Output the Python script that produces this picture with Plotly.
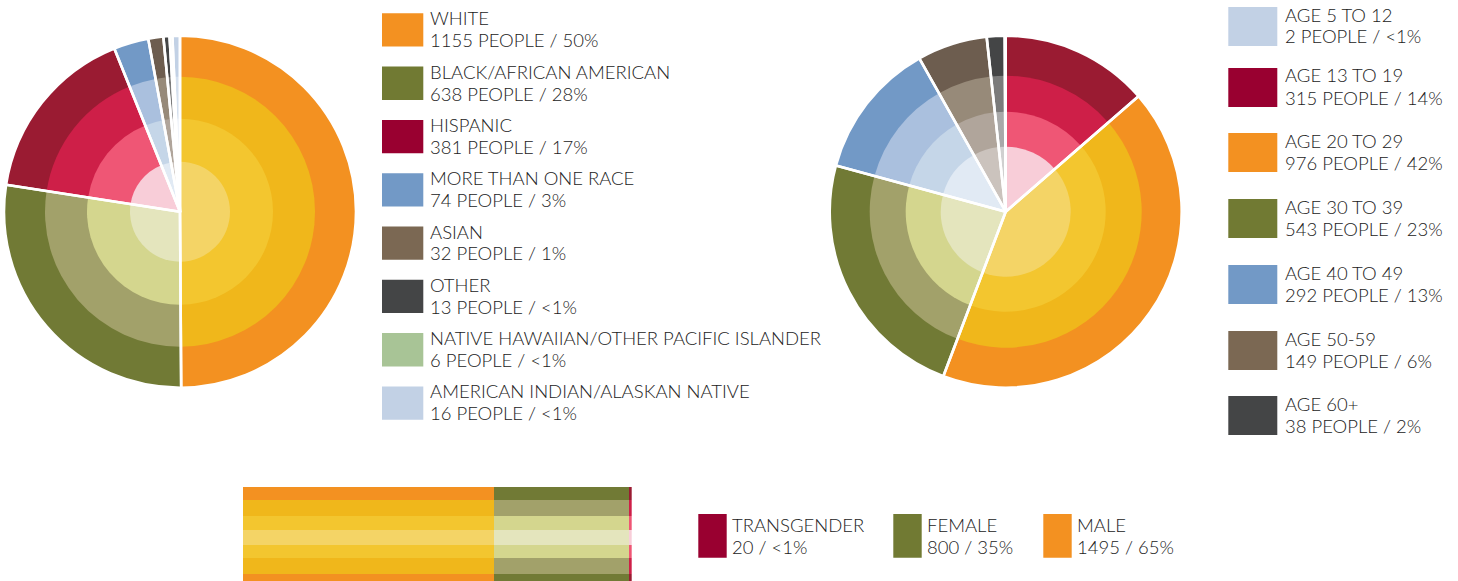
import plotly.graph_objects as go

W, H = 1458, 581

# ---------------- data ----------------
race_labels = ['WHITE', 'BLACK/AFRICAN AMERICAN', 'HISPANIC', 'MORE THAN ONE RACE', 'ASIAN',
               'OTHER', 'NATIVE HAWAIIAN/OTHER PACIFIC ISLANDER', 'AMERICAN INDIAN/ALASKAN NATIVE']
race_counts = [1155, 638, 381, 74, 32, 13, 6, 16]
race_pct = ['50%', '28%', '17%', '3%', '1%', '<1%', '<1%', '<1%']

age_labels = ['AGE 5 TO 12', 'AGE 13 TO 19', 'AGE 20 TO 29', 'AGE 30 TO 39',
              'AGE 40 TO 49', 'AGE 50-59', 'AGE 60+']
age_counts = [2, 315, 976, 543, 292, 149, 38]
age_pct = ['<1%', '14%', '42%', '23%', '13%', '6%', '2%']
age_pie_order = [1, 2, 3, 4, 5, 6, 0]

gender_labels = ['TRANSGENDER', 'FEMALE', 'MALE']
gender_counts = [20, 800, 1495]
gender_pct = ['<1%', '35%', '65%']
gender_bar_order = [2, 1, 0]

# ---------------- styles ----------------
PAL = {
    'orange': ['#F39121', '#F0B71B', '#F3C62F', '#F4D466'],
    'olive': ['#717A35', '#A2A16A', '#D4D68E', '#E4E5BD'],
    'red': ['#9A1B32', '#CE1F48', '#EF5675', '#F8CDD8'],
    'blue': ['#7299C6', '#AAC0DE', '#C5D6E8', '#E1EAF4'],
    'brown': ['#6D5D4F', '#978A79', '#B0A59B', '#CBC3BD'],
    'gray': ['#444546', '#7B7B7B', '#A9A9A9', '#D0D0D0'],
    'green': ['#A8C496', '#C5D8B8', '#DCE8D4', '#EEF4EA'],
    'lightblue': ['#C2D1E5', '#D5E0EE', '#E3EAF4', '#F0F4F9'],
}
race_pal = ['orange', 'olive', 'red', 'blue', 'brown', 'gray', 'green', 'lightblue']
race_swatch = ['#F39121', '#717A33', '#990030', '#7299C6', '#7B6853', '#444546', '#A8C496', '#C2D1E5']
age_pal = ['lightblue', 'red', 'orange', 'olive', 'blue', 'brown', 'gray']
age_swatch = ['#C2D1E5', '#990030', '#F39121', '#717A33', '#7299C6', '#7B6853', '#444546']
gender_pal = ['red', 'olive', 'orange']
gender_swatch = ['#990030', '#717A33', '#F39121']

FONT = 'Lato'
FSIZE = 18.5
TCOL = '#222222'

fig = go.Figure()


def dom(cx, cy, r):
    return dict(x=[(cx - r) / W, (cx + r) / W], y=[1 - (cy + r) / H, 1 - (cy - r) / H])


def ring_pie(values, labels, pals, cx, cy, radii):
    for level, r in enumerate(radii):
        fig.add_trace(go.Pie(values=values, labels=labels, sort=False, direction='clockwise',
                             rotation=0, textinfo='none', showlegend=False,
                             marker=dict(colors=[PAL[p][level] for p in pals], line=dict(width=0)),
                             domain=dom(cx, cy, r)))
    fig.add_trace(go.Pie(values=values, labels=labels, sort=False, direction='clockwise',
                         rotation=0, textinfo='none', showlegend=False, hoverinfo='skip',
                         marker=dict(colors=['rgba(0,0,0,0)'] * len(values),
                                     line=dict(color='white', width=2.6)),
                         domain=dom(cx, cy, radii[0])))


ring_pie(race_counts, race_labels, race_pal, 180, 211.7, [176, 135, 93, 50])
ring_pie([age_counts[i] for i in age_pie_order], [age_labels[i] for i in age_pie_order],
         [age_pal[i] for i in age_pie_order], 1005.7, 211.7, [176, 136, 100, 65])

# ---------------- gender bar (striped like a cylinder) ----------------
bounds = [50, 37.2, 20.7, 7.5, -7.5, -20.7, -37.2, -50]
levels = [0, 1, 2, 3, 2, 1, 0]
centers = [(bounds[k] + bounds[k + 1]) / 2 for k in range(7)]
widths = [bounds[k] - bounds[k + 1] for k in range(7)]
for gi in gender_bar_order:
    fig.add_trace(go.Bar(x=[gender_counts[gi]] * 7, y=centers, width=widths, orientation='h',
                         marker=dict(color=[PAL[gender_pal[gi]][l] for l in levels], line=dict(width=0)),
                         name=gender_labels[gi], showlegend=False))

fig.update_layout(
    barmode='stack', bargap=0,
    xaxis=dict(domain=[242.7 / W, 631.7 / W], range=[0, sum(gender_counts)], visible=False),
    yaxis=dict(domain=[0, (H - 486.7) / H], range=[-44.3, 50], visible=False),
)

# ---------------- legends ----------------
shapes, annos = [], []


def legend_item(x0, y0, w, h, color, tx, y1, y2, line1, line2):
    shapes.append(dict(type='rect', xref='paper', yref='paper', x0=x0 / W, x1=(x0 + w) / W,
                       y0=1 - y0 / H, y1=1 - (y0 + h) / H, fillcolor=color, line=dict(width=0)))
    for yy, t in ((y1, line1), (y2, line2)):
        annos.append(dict(xref='paper', yref='paper', x=(tx - 2) / W, y=1 - yy / H, text=t,
                          showarrow=False, xanchor='left', yanchor='middle',
                          font=dict(family=FONT, size=FSIZE, color=TCOL, weight=300)))


for i in range(len(race_labels)):
    top = 13.3 + 53.3 * i
    legend_item(382, top, 41.3, 33.3, race_swatch[i], 430, top + 5, top + 27,
                race_labels[i], f'{race_counts[i]} PEOPLE / {race_pct[i]}')

age_tops = [7, 68, 133, 199, 265, 331, 396]
for i in range(len(age_labels)):
    top = age_tops[i]
    legend_item(1228.3, top, 49, 39, age_swatch[i], 1285, top + 7.5, top + 29.5,
                age_labels[i], f'{age_counts[i]} PEOPLE / {age_pct[i]}')

gender_x = [698.3, 893.3, 1043.3]
for i in range(len(gender_labels)):
    legend_item(gender_x[i], 514, 28.4, 43.7, gender_swatch[i], gender_x[i] + 33.4, 525.2, 547.2,
                gender_labels[i], f'{gender_counts[i]} / {gender_pct[i]}')

fig.update_layout(
    width=W, height=H, margin=dict(l=0, r=0, t=0, b=0),
    paper_bgcolor='white', plot_bgcolor='rgba(0,0,0,0)',
    showlegend=False, shapes=shapes, annotations=annos,
)

fig.write_html('out.html')
